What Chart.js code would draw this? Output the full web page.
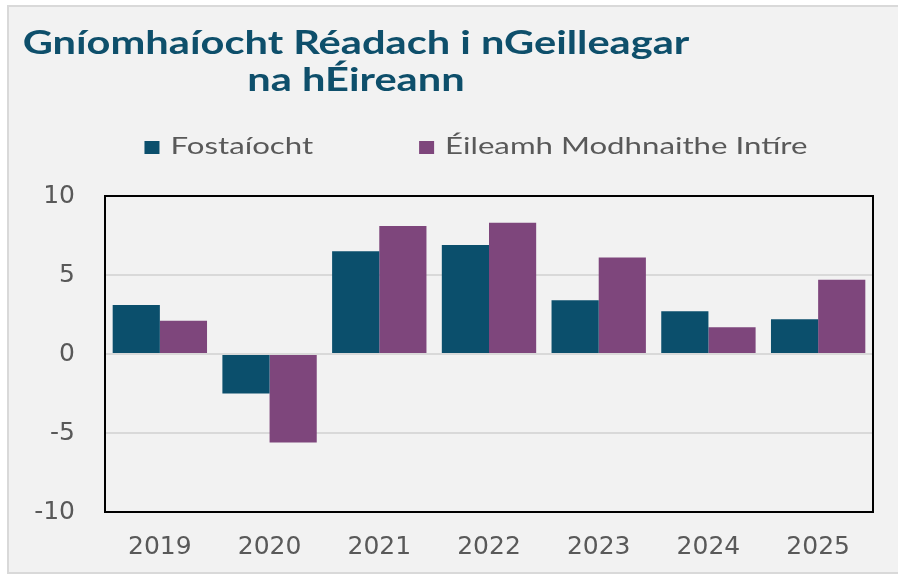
<!DOCTYPE html>
<html>
<head>
<meta charset="utf-8">
<script src="https://cdn.jsdelivr.net/npm/chart.js@4"></script>
<style>
    body { margin: 0; background: #ffffff; }
    #wrap { width: 898px; height: 580px; position: relative; }
</style>
</head>
<body>
<div id="wrap"><canvas id="chart"></canvas></div>
<script>
// ==========================================================================
// DATA
// ==========================================================================
const years = ['2019', '2020', '2021', '2022', '2023', '2024', '2025'];
const fostaiocht = [3.1, -2.5, 6.5, 6.9, 3.4, 2.7, 2.2];
const eileamh = [2.1, -5.6, 8.1, 8.3, 6.1, 1.7, 4.7];
const seriesLabels = ['Fostaíocht', 'Éileamh Modhnaithe Intíre'];
const titleLines = ['Gníomhaíocht Réadach i nGeilleagar', 'na hÉireann'];
const yTicks = { min: -10, max: 10, step: 5 };

const teal = '#0B4F6C';
const purple = '#7E467C';
const greyText = '#595959';
const stretch = 1.3; // source picture text is drawn wide

// Chart area background + light outer frame
const backgroundPlugin = {
    id: 'background',
    beforeDraw(chart) {
        const ctx = chart.ctx;
        ctx.save();
        ctx.fillStyle = '#ffffff';
        ctx.fillRect(0, 0, chart.width, chart.height);
        ctx.fillStyle = '#F2F2F2';
        ctx.fillRect(8, 6, chart.width, 567);
        ctx.strokeStyle = '#D9D9D9';
        ctx.lineWidth = 2;
        ctx.strokeRect(8, 6, chart.width + 10, 567);
        ctx.restore();
    }
};

// Two-line title, centred on its own column like the source
const titlePlugin = {
    id: 'sheetTitle',
    afterDraw(chart) {
        const ctx = chart.ctx;
        ctx.save();
        ctx.fillStyle = '#0E4F6B';
        ctx.font = 'bold 32px Lato';
        ctx.textAlign = 'center';
        ctx.textBaseline = 'alphabetic';
        const cx = 356;
        const baselines = [54, 91];
        titleLines.forEach((line, i) => {
            ctx.save();
            ctx.translate(cx, baselines[i]);
            ctx.scale(stretch, 1);
            ctx.fillText(line, 0, 0);
            ctx.restore();
        });
        ctx.restore();
    }
};

// Legend drawn from the datasets themselves
const legendPlugin = {
    id: 'sheetLegend',
    afterDraw(chart) {
        const ctx = chart.ctx;
        ctx.save();
        ctx.font = '24px Lato';
        ctx.textBaseline = 'alphabetic';
        const boxW = 15, boxH = 13, boxGap = 11, itemGap = 106;
        const items = chart.data.datasets.map(ds => ({
            text: ds.label,
            color: ds.backgroundColor,
            w: ctx.measureText(ds.label).width * stretch
        }));
        const total = items.reduce((s, it) => s + boxW + boxGap + it.w, 0) + itemGap * (items.length - 1);
        let x = 476 - total / 2;
        const baseline = 154;
        items.forEach(it => {
            ctx.fillStyle = it.color;
            ctx.fillRect(x, 141, boxW, boxH);
            x += boxW + boxGap;
            ctx.save();
            ctx.translate(x, baseline);
            ctx.scale(stretch, 1);
            ctx.fillStyle = greyText;
            ctx.fillText(it.text, 0, 0);
            ctx.restore();
            x += it.w + itemGap;
        });
        ctx.restore();
    }
};

// Black frame round the plot area
const framePlugin = {
    id: 'plotFrame',
    afterDraw(chart) {
        const { left, top, right, bottom } = chart.chartArea;
        const ctx = chart.ctx;
        ctx.save();
        ctx.strokeStyle = '#000000';
        ctx.lineWidth = 2;
        ctx.strokeRect(left, top, right - left, bottom - top);
        ctx.restore();
    }
};

const ctx = document.getElementById('chart').getContext('2d');

new Chart(ctx, {
    type: 'bar',
    data: {
        labels: years,
        datasets: [{
            label: seriesLabels[0],
            data: fostaiocht,
            backgroundColor: teal,
            borderWidth: 0
        }, {
            label: seriesLabels[1],
            data: eileamh,
            backgroundColor: purple,
            borderWidth: 0
        }]
    },
    options: {
        responsive: true,
        maintainAspectRatio: false,
        animation: false,
        layout: { padding: { top: 196, right: 25, bottom: 0, left: 0 } },
        datasets: {
            bar: { categoryPercentage: 0.86, barPercentage: 1.0 }
        },
        plugins: {
            legend: { display: false },
            title: { display: false },
            tooltip: { enabled: false }
        },
        scales: {
            x: {
                grid: { display: false },
                border: { display: false },
                ticks: {
                    color: greyText,
                    font: { size: 25, family: 'DejaVu Sans' },
                    padding: 12
                },
                afterFit: scale => { scale.height = 68; }
            },
            y: {
                min: yTicks.min,
                max: yTicks.max,
                grid: {
                    drawTicks: false,
                    lineWidth: 2,
                    color: c => Math.abs(c.tick.value) === 10 ? 'rgba(0,0,0,0)' : '#D9D9D9'
                },
                border: { display: false },
                ticks: {
                    stepSize: yTicks.step,
                    color: greyText,
                    font: { size: 25, family: 'DejaVu Sans' },
                    padding: 30
                },
                afterFit: scale => { scale.width = 105; }
            }
        }
    },
    plugins: [backgroundPlugin, titlePlugin, legendPlugin, framePlugin]
});
</script>
</body>
</html>
